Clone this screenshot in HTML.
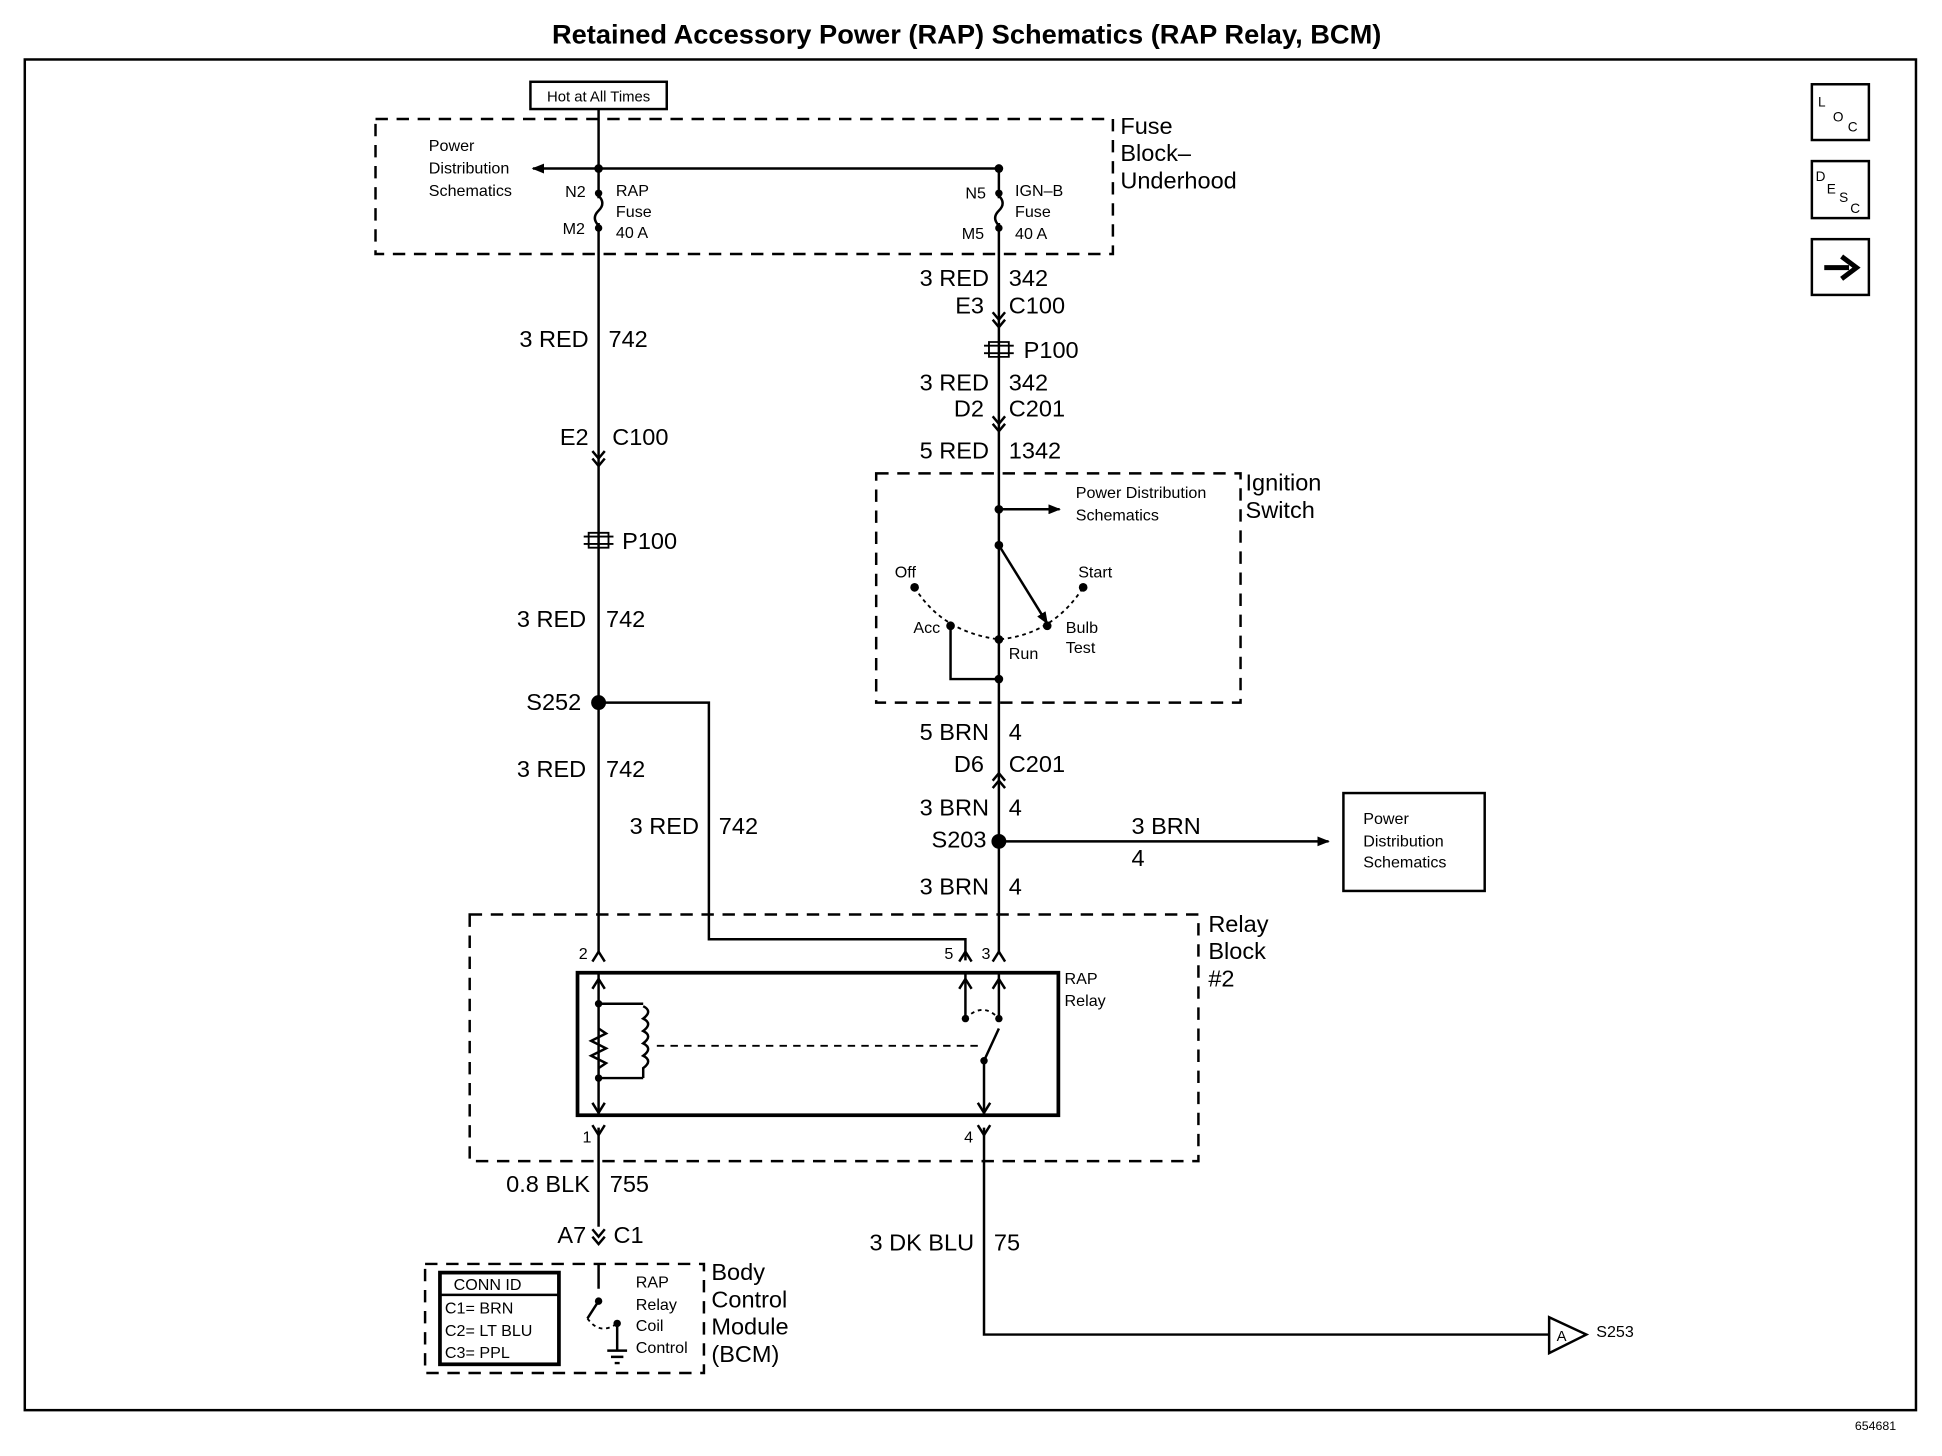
<!DOCTYPE html>
<html><head><meta charset="utf-8"><style>
html,body{margin:0;padding:0;background:#fff;}
svg{display:block;}
text{font-family:"Liberation Sans",Arial,sans-serif;fill:#000;}
</style></head><body>
<svg width="1942" height="1456" viewBox="0 0 1567 1175" preserveAspectRatio="none" xmlns="http://www.w3.org/2000/svg">
<defs>
<marker id="ar" markerWidth="10" markerHeight="8" refX="9" refY="4" orient="auto" markerUnits="userSpaceOnUse"><path d="M0,0 L10,4 L0,8 z" fill="#000"/></marker>
</defs>
<g stroke="#000" fill="none" stroke-width="2">
<rect x="20" y="48" width="1526" height="1090" stroke-width="2"/>
<rect x="1462" y="68" width="46" height="45"/>
<rect x="1462" y="130" width="46" height="46"/>
<rect x="1462" y="193" width="46" height="45"/>
<path d="M1472,216 H1492" stroke-width="4"/>
<path d="M1486,207 L1498,216 L1486,225" stroke-width="4"/>
<rect x="428" y="66" width="110" height="22"/>
<g stroke-dasharray="10,7">
<rect x="303" y="96" width="595" height="109"/>
<rect x="707" y="382" width="294" height="185"/>
<rect x="379" y="738" width="588" height="199"/>
<rect x="343" y="1020" width="225" height="88"/>
</g>
<path d="M483,88 V160 M483,180 V770"/>
<path d="M483,136 H806 V160 M806,180 V770"/>
<path d="M483,136 H430" marker-end="url(#ar)"/>
<path d="M483,158 q6,6 0,12 q-6,6 0,12"/>
<path d="M806,158 q6,6 0,12 q-6,6 0,12"/>
<path d="M478,364 l5,6 l5,-6 M478,370 l5,6 l5,-6"/>
<path d="M801,252 l5,6 l5,-6 M801,258 l5,6 l5,-6"/>
<path d="M801,336 l5,6 l5,-6 M801,342 l5,6 l5,-6"/>
<path d="M801,630 l5,-6 l5,6 M801,636 l5,-6 l5,6"/>
<path d="M471,433 h24 M471,439 h24 M475,430 h16 v12 h-16z" stroke-width="1.5"/>
<path d="M794,279 h24 M794,285 h24 M798,276 h16 v12 h-16z" stroke-width="1.5"/>
<path d="M483,567 H572 V758 H779 V775"/>
<path d="M806,411 H855" marker-end="url(#ar)"/>
<path d="M806,440 L845,503" marker-end="url(#ar)"/>
<path d="M738,474 Q760,510 806,516 Q850,512 874,474" stroke-dasharray="3,3" stroke-width="1.5"/>
<path d="M767,505 V548 H806"/>
<path d="M806,679 H1072" marker-end="url(#ar)"/>
<rect x="1084" y="640" width="114" height="79"/>
<path d="M478,776 l5,-8 l5,8 M801,776 l5,-8 l5,8 M774,776 l5,-8 l5,8"/>
<path d="M478,908 l5,8 l5,-8 M789,908 l5,8 l5,-8"/>
<rect x="466" y="785" width="388" height="115" stroke-width="3"/>
<path d="M483,786 V900 M483,810 H519 M483,870 H519"/>
<path d="M478,798 l5,-8 l5,8 M478,890 l5,8 l5,-8"/>
<path d="M483,830 l6,4 l-12,6 l12,6 l-12,6 l12,6 l-6,4"/>
<path d="M519,812 q8,4 0,10 q8,4 0,10 q8,4 0,10 q8,4 0,10 q8,4 0,10 V870" />
<path d="M530,844 H790" stroke-dasharray="6,5" stroke-width="1.5"/>
<path d="M779,786 V822 M806,786 V822 M794,856 V900 M794,856 L806,830"/>
<path d="M774,798 l5,-8 l5,8 M801,798 l5,-8 l5,8 M789,890 l5,8 l5,-8"/>
<path d="M779,822 q14,-14 27,0" stroke-dasharray="3,3" stroke-width="1.5"/>
<path d="M483,910 V990 M478,992 l5,6 l5,-6 M478,998 l5,6 l5,-6"/>
<path d="M794,910 V1077 H1250"/>
<path d="M1250,1063 L1280,1077 L1250,1092 z"/>
<rect x="355" y="1027" width="96" height="74" stroke-width="3"/>
<path d="M355,1045 H451" />
<path d="M483,1020 V1040 M483,1050 L474,1064 M498,1068 V1090 M490,1090 h16 M493,1095 h10 M496,1100 h4"/>
<path d="M474,1064 q10,14 24,4" stroke-dasharray="3,3" stroke-width="1.5"/>
</g>
<g fill="#000">
<circle cx="483" cy="136" r="3.5"/><circle cx="806" cy="136" r="3.5"/>
<circle cx="483" cy="156" r="3"/><circle cx="483" cy="184" r="3"/>
<circle cx="806" cy="156" r="3"/><circle cx="806" cy="184" r="3"/>
<circle cx="483" cy="567" r="6"/><circle cx="806" cy="679" r="6"/>
<circle cx="806" cy="411" r="3.5"/><circle cx="806" cy="440" r="3.5"/>
<circle cx="738" cy="474" r="3.5"/><circle cx="874" cy="474" r="3.5"/>
<circle cx="767" cy="505" r="3.5"/><circle cx="845" cy="505" r="3.5"/>
<circle cx="806" cy="516" r="3.5"/><circle cx="806" cy="548" r="3.5"/>
<circle cx="483" cy="810" r="3"/><circle cx="483" cy="870" r="3"/>
<circle cx="779" cy="822" r="3"/><circle cx="806" cy="822" r="3"/><circle cx="794" cy="856" r="3"/>
<circle cx="483" cy="1050" r="3"/><circle cx="498" cy="1068" r="3"/>
</g>
<text x="780" y="35" font-size="22" font-weight="bold" text-anchor="middle">Retained Accessory Power (RAP) Schematics (RAP Relay, BCM)</text>
<text x="1530" y="1154" font-size="10" text-anchor="end">654681</text>
<text x="1467" y="86" font-size="11">L</text><text x="1479" y="98" font-size="11">O</text><text x="1491" y="106" font-size="11">C</text>
<text x="1465" y="146" font-size="11">D</text><text x="1474" y="156" font-size="11">E</text><text x="1484" y="163" font-size="11">S</text><text x="1493" y="172" font-size="11">C</text>
<text x="483" y="82" font-size="12" text-anchor="middle">Hot at All Times</text>
<g font-size="13">
<text x="346" y="122">Power</text><text x="346" y="140">Distribution</text><text x="346" y="158">Schematics</text>
<text x="456" y="159">N2</text><text x="454" y="189">M2</text>
<text x="497" y="158">RAP</text><text x="497" y="175">Fuse</text><text x="497" y="192">40 A</text>
<text x="779" y="160">N5</text><text x="776" y="193">M5</text>
<text x="819" y="158">IGN–B</text><text x="819" y="175">Fuse</text><text x="819" y="193">40 A</text>
<text x="868" y="402">Power Distribution</text><text x="868" y="420">Schematics</text>
<text x="722" y="466">Off</text><text x="870" y="466">Start</text>
<text x="737" y="511">Acc</text><text x="860" y="511">Bulb</text><text x="860" y="527">Test</text><text x="814" y="532">Run</text>
<text x="1100" y="665">Power</text><text x="1100" y="683">Distribution</text><text x="1100" y="700">Schematics</text>
<text x="859" y="794">RAP</text><text x="859" y="812">Relay</text>
<text x="467" y="774">2</text><text x="762" y="774">5</text><text x="792" y="774">3</text>
<text x="470" y="922">1</text><text x="778" y="922">4</text>
<text x="513" y="1039">RAP</text><text x="513" y="1057">Relay</text><text x="513" y="1074">Coil</text><text x="513" y="1092">Control</text>
<text x="366" y="1041">CONN ID</text><text x="359" y="1060">C1= BRN</text><text x="359" y="1078">C2= LT BLU</text><text x="359" y="1096">C3= PPL</text>
<text x="1288" y="1079">S253</text><text x="1256" y="1082" font-size="12">A</text>
</g>
<g font-size="19">
<text x="904" y="108">Fuse</text><text x="904" y="130">Block–</text><text x="904" y="152">Underhood</text>
<text x="1005" y="396">Ignition</text><text x="1005" y="418">Switch</text>
<text x="975" y="752">Relay</text><text x="975" y="774">Block</text><text x="975" y="796">#2</text>
<text x="574" y="1033">Body</text><text x="574" y="1055">Control</text><text x="574" y="1077">Module</text><text x="574" y="1099">(BCM)</text>
<text x="475" y="280" text-anchor="end">3 RED</text><text x="491" y="280">742</text>
<text x="475" y="359" text-anchor="end">E2</text><text x="494" y="359">C100</text>
<text x="502" y="443">P100</text>
<text x="473" y="506" text-anchor="end">3 RED</text><text x="489" y="506">742</text>
<text x="469" y="573" text-anchor="end">S252</text>
<text x="473" y="627" text-anchor="end">3 RED</text><text x="489" y="627">742</text>
<text x="564" y="673" text-anchor="end">3 RED</text><text x="580" y="673">742</text>
<text x="798" y="231" text-anchor="end">3 RED</text><text x="814" y="231">342</text>
<text x="794" y="253" text-anchor="end">E3</text><text x="814" y="253">C100</text>
<text x="826" y="289">P100</text>
<text x="798" y="315" text-anchor="end">3 RED</text><text x="814" y="315">342</text>
<text x="794" y="336" text-anchor="end">D2</text><text x="814" y="336">C201</text>
<text x="798" y="370" text-anchor="end">5 RED</text><text x="814" y="370">1342</text>
<text x="798" y="597" text-anchor="end">5 BRN</text><text x="814" y="597">4</text>
<text x="794" y="623" text-anchor="end">D6</text><text x="814" y="623">C201</text>
<text x="798" y="658" text-anchor="end">3 BRN</text><text x="814" y="658">4</text>
<text x="796" y="684" text-anchor="end">S203</text>
<text x="798" y="722" text-anchor="end">3 BRN</text><text x="814" y="722">4</text>
<text x="913" y="673">3 BRN</text><text x="913" y="699">4</text>
<text x="476" y="962" text-anchor="end">0.8 BLK</text><text x="492" y="962">755</text>
<text x="473" y="1003" text-anchor="end">A7</text><text x="495" y="1003">C1</text>
<text x="786" y="1009" text-anchor="end">3 DK BLU</text><text x="802" y="1009">75</text>
</g>
</svg>
</body></html>
